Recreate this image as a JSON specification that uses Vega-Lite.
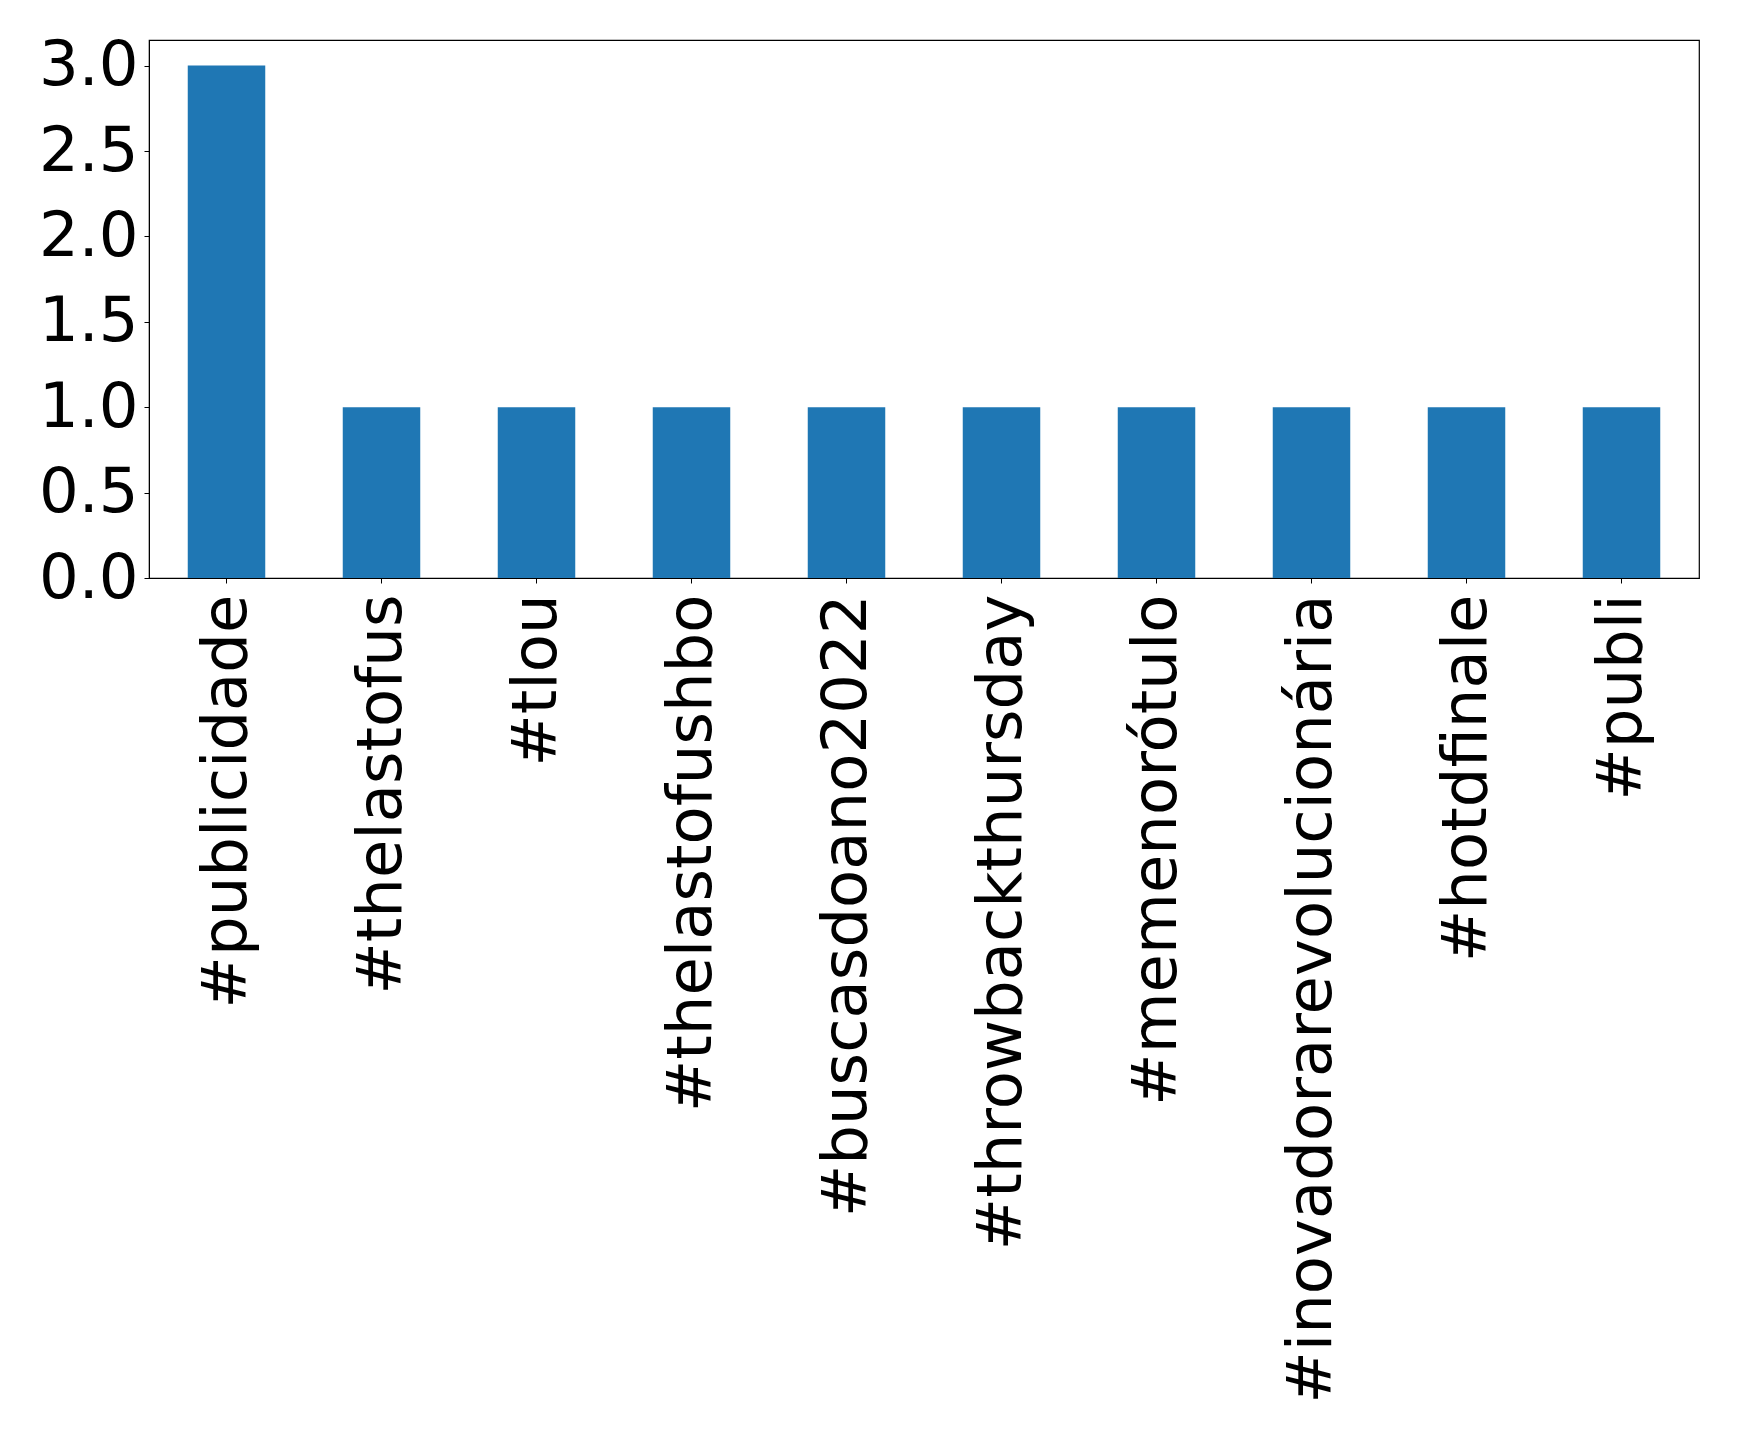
{
  "$schema": "https://vega.github.io/schema/vega-lite/v6.json",
  "autosize": {"type": "none"},
  "padding": {"left": 149, "top": 40, "right": 40, "bottom": 859},
  "width": 1550,
  "height": 538,
  "background": "white",
  "data": {
    "values": [
      {"tag": "#publicidade", "count": 3},
      {"tag": "#thelastofus", "count": 1},
      {"tag": "#tlou", "count": 1},
      {"tag": "#thelastofushbo", "count": 1},
      {"tag": "#buscasdoano2022", "count": 1},
      {"tag": "#throwbackthursday", "count": 1},
      {"tag": "#memenorótulo", "count": 1},
      {"tag": "#inovadorarevolucionária", "count": 1},
      {"tag": "#hotdfinale", "count": 1},
      {"tag": "#publi", "count": 1}
    ]
  },
  "mark": {"type": "bar", "color": "#1f77b4"},
  "encoding": {
    "x": {
      "field": "tag",
      "type": "nominal",
      "sort": null,
      "scale": {"paddingInner": 0.5, "paddingOuter": 0.25},
      "axis": {
        "title": null,
        "labelAngle": -90,
        "labelAlign": "right",
        "labelBaseline": "middle",
        "labelFont": "DejaVu Sans",
        "labelFontSize": 62.5,
        "labelColor": "black",
        "labelPadding": 11,
        "tickSize": 5,
        "tickColor": "black",
        "domainColor": "black",
        "labelLimit": 0
      }
    },
    "y": {
      "field": "count",
      "type": "quantitative",
      "scale": {"domain": [0, 3.15], "nice": false, "zero": true},
      "axis": {
        "title": null,
        "values": [0, 0.5, 1, 1.5, 2, 2.5, 3],
        "format": ".1f",
        "grid": false,
        "labelFont": "DejaVu Sans",
        "labelFontSize": 62.5,
        "labelColor": "black",
        "labelPadding": 6,
        "tickSize": 5,
        "tickColor": "black",
        "domainColor": "black",
        "labelBaseline": "middle"
      }
    }
  },
  "config": {
    "view": {"stroke": "black", "strokeWidth": 1.2}
  }
}
